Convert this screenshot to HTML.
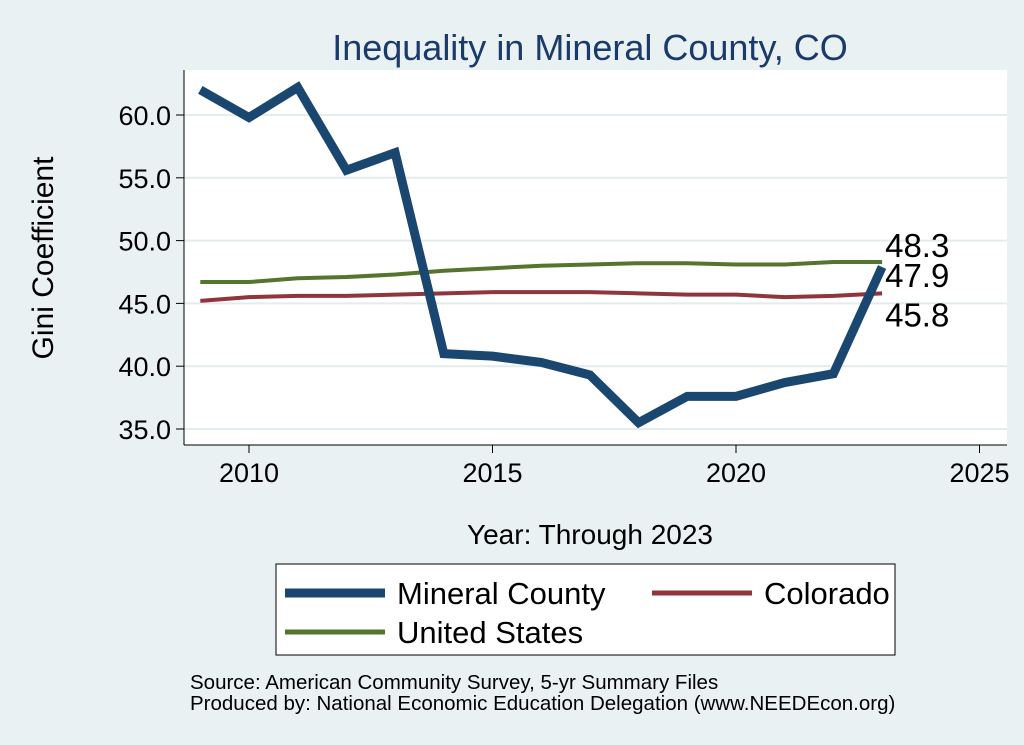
<!DOCTYPE html>
<html><head><meta charset="utf-8"><style>
body{margin:0;background:#eaf1f3;font-family:"Liberation Sans",sans-serif;}
svg{display:block}
</style></head><body>
<svg id="chart" width="1024" height="745" xmlns="http://www.w3.org/2000/svg">
<rect x="0" y="0" width="1024" height="745" fill="#eaf1f3"/>
<text x="590" y="60" font-size="36" fill="#1a3a6a" text-anchor="middle">Inequality in Mineral County, CO</text>
<rect x="184" y="70" width="823" height="375" fill="#fff"/>
<g id="grid"></g><g id="axes"></g><g id="series"></g><g id="labels"></g>
<text x="53" y="258" font-size="30" fill="#000" text-anchor="middle" transform="rotate(-90 53 258)">Gini Coefficient</text>
<text x="590" y="544" font-size="28" fill="#000" text-anchor="middle">Year: Through 2023</text>
<g>
<rect x="276" y="564" width="619" height="91" fill="#fff" stroke="#000" stroke-width="1"/>
<g><line x1="285" y1="593" x2="385" y2="593" stroke="#1a476f" stroke-width="9"/><text x="397" y="604" font-size="31">Mineral County</text></g>
<g><line x1="652" y1="593" x2="752" y2="593" stroke="#90353b" stroke-width="5"/><text x="764" y="604" font-size="31">Colorado</text></g>
<g><line x1="285" y1="632" x2="385" y2="632" stroke="#55752f" stroke-width="5"/><text x="397" y="643" font-size="31">United States</text></g>
</g>
<text x="190" y="689" font-size="20.5">Source: American Community Survey, 5-yr Summary Files</text>
<text x="190" y="710" font-size="20.5">Produced by: National Economic Education Delegation (www.NEEDEcon.org)</text>
</svg>
<script>
const years=[2009,2010,2011,2012,2013,2014,2015,2016,2017,2018,2019,2020,2021,2022,2023];
const mineral=[62.0,59.8,62.2,55.6,57.0,41.0,40.8,40.3,39.3,35.5,37.6,37.6,38.7,39.4,47.9];
const colorado=[45.2,45.5,45.6,45.6,45.7,45.8,45.9,45.9,45.9,45.8,45.7,45.7,45.5,45.6,45.8];
const us=[46.7,46.7,47.0,47.1,47.3,47.6,47.8,48.0,48.1,48.2,48.2,48.1,48.1,48.3,48.3];
const yTicks=[35,40,45,50,55,60];
const xTicks=[2010,2015,2020,2025];
const endLabels=["48.3","47.9","45.8"];
const NS="http://www.w3.org/2000/svg";
const X=y=>249+(y-2010)*48.7;
const Y=v=>115+(60-v)*12.56;
function mk(t,a,p){const e=document.createElementNS(NS,t);for(const k in a)e.setAttribute(k,a[k]);p.appendChild(e);return e;}
const grid=document.getElementById('grid'),axes=document.getElementById('axes'),ser=document.getElementById('series'),lab=document.getElementById('labels');
mk('line',{x1:184,y1:70,x2:184,y2:445,stroke:'#000','stroke-width':1},axes);
mk('line',{x1:184,y1:445,x2:1007,y2:445,stroke:'#000','stroke-width':1},axes);
yTicks.forEach(v=>{
 const g=mk('line',{x1:184,x2:1007,y1:Y(v),y2:Y(v),stroke:'#e4ecee','stroke-width':2},grid);
 
 mk('line',{x1:176,x2:184,y1:Y(v),y2:Y(v),stroke:'#000'},axes);
 const t=mk('text',{x:171,y:Y(v)+10,'font-size':27,'text-anchor':'end'},axes);t.textContent=v.toFixed(1);
 
});
xTicks.forEach(v=>{
 mk('line',{x1:X(v),x2:X(v),y1:445,y2:453,stroke:'#000'},axes);
 const t=mk('text',{x:X(v),y:482,'font-size':27,'text-anchor':'middle'},axes);t.textContent=v;
 
});
function line(d,c,w,n){const p=mk('polyline',{points:d.map((v,i)=>X(years[i])+','+Y(v)).join(' '),fill:'none',stroke:c,'stroke-width':w,'stroke-linejoin':'miter'},ser);
 }
line(colorado,'#90353b',4,'line-colorado');
line(us,'#55752f',4,'line-united-states');
line(mineral,'#1a476f',9,'line-mineral-county');
const last=years.length-1;
[[us[last],-5],[mineral[last],20],[colorado[last],33]].forEach((p,i)=>{
 const t=mk('text',{x:X(years[last])+3,y:Y(p[0])+p[1],'font-size':33},lab);t.textContent=endLabels[i];
 
});
</script>
</body></html>
